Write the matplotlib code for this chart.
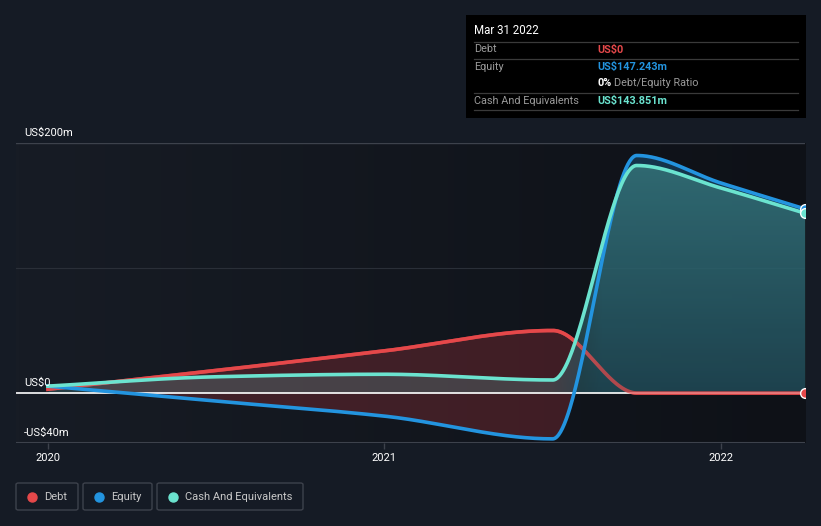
import numpy as np
import matplotlib.pyplot as plt
from matplotlib.patches import Rectangle, FancyBboxPatch
from matplotlib.colors import LinearSegmentedColormap, to_rgb

plt.rcParams['font.family'] = ['Roboto', 'DejaVu Sans']

# period ends as decimal years (Dec 2019 ... Mar 2022)
dates = [2020.0, 2020.5, 2021.0, 2021.5, 2021.75, 2022.0, 2022.25]
debt = [3.0, 18.0, 33.7, 50.0, 0.0, 0.0, 0.0]
equity = [5.5, -6.5, -18.5, -36.7, 190.0, 168.0, 147.243]
cash = [5.5, 13.0, 15.0, 10.4, 182.0, 164.0, 143.851]

legend_names = ['Debt', 'Equity', 'Cash And Equivalents']
c_debt, c_eq, c_cash = '#e5484a', '#2394df', '#6be3cf'
bg = '#151b25'


def pchip(x, y, xs):
    # monotone cubic (Fritsch-Carlson) so the curves look like the source chart
    x = np.asarray(x, float); y = np.asarray(y, float)
    h = np.diff(x); d = np.diff(y) / h
    m = np.zeros_like(y)
    m[0], m[-1] = d[0], d[-1]
    for k in range(1, len(y) - 1):
        if d[k-1] * d[k] <= 0:
            m[k] = 0
        else:
            w1 = 2*h[k] + h[k-1]; w2 = h[k] + 2*h[k-1]
            m[k] = (w1 + w2) / (w1/d[k-1] + w2/d[k])
    i = np.clip(np.searchsorted(x, xs) - 1, 0, len(h) - 1)
    t = (xs - x[i]) / h[i]
    h00 = 2*t**3 - 3*t**2 + 1; h10 = t**3 - 2*t**2 + t
    h01 = -2*t**3 + 3*t**2; h11 = t**3 - t**2
    return h00*y[i] + h10*h[i]*m[i] + h01*y[i+1] + h11*h[i]*m[i+1]


xs = np.linspace(dates[0], dates[-1], 800)
yd = pchip(dates, debt, xs)
ye = pchip(dates, equity, xs)
yc = pchip(dates, cash, xs)

fig = plt.figure(figsize=(8.21, 5.26), dpi=100, facecolor=bg)
ax = fig.add_axes([16/821, 1-443/526, 789/821, 300/526])
x0, x1, y0, y1 = 2019.905, 2022.25, -40, 200
ax.set_xlim(x0, x1)
ax.set_ylim(y0, y1)

# darker plot area, fading to the right
grad = LinearSegmentedColormap.from_list('g', ['#171c25', '#0e1117'])
ax.imshow(np.linspace(0, 1, 256)[None, :], extent=[0, 1, 0, 1], transform=ax.transAxes,
          cmap=grad, aspect='auto', zorder=0)

for s in ax.spines.values():
    s.set_visible(False)
ax.axhline(200, color='#3d424c', lw=1, zorder=1)
ax.axhline(100, color='#2a2f38', lw=0.8, zorder=1)
ax.axhline(-40, color='#3d424c', lw=1.5, zorder=1)

# fills
ax.fill_between(xs, yd, ye, where=yd > ye, color='#7a2a32', alpha=0.45, lw=0, zorder=2)
ax.plot(xs, yd, color=c_debt, lw=2.6, zorder=2.5)
ax.fill_between(xs, yc, 0, where=yc > 0, color='#5aa8a8', alpha=0.25, lw=0, zorder=3)
ax.fill_between(xs, ye, np.maximum(yc, 0), where=ye > yc, color='#17405e', alpha=0.75, lw=0, zorder=3)

# vertical teal gradient under the cash line, faded in after mid 2021
poly = ax.fill_between(xs, yc, 0, where=yc > 0, facecolor='none', lw=0, zorder=3.2)
ny, nx = 200, 400
gy = np.linspace(0, 1, ny)[:, None]
gx = np.linspace(x0, x1, nx)[None, :]
top, bot = np.array(to_rgb('#33737c')), np.array(to_rgb('#1d4451'))
img = np.zeros((ny, nx, 4))
img[..., :3] = (bot + (top - bot) * gy[..., None]) * np.ones((ny, nx, 1))
img[..., 3] = np.clip((gx - 2021.5) / 0.15, 0, 1) * 0.85 * np.ones((ny, nx))
im = ax.imshow(img, extent=[x0, x1, 0, 185], origin='lower', aspect='auto', zorder=3.2)
im.set_clip_path(poly.get_paths()[0], transform=ax.transData)
ax.set_xlim(x0, x1)
ax.set_ylim(y0, y1)

ax.axhline(0, color='white', lw=1.2, zorder=4)
# debt line seen through the fill, muted
ax.plot(xs, yd, color=c_debt, lw=2.6, alpha=0.7, zorder=4.5)
ax.plot(xs, ye, color=c_eq, lw=2.6, zorder=5)
ax.plot(xs, yc, color=c_cash, lw=2.6, zorder=6)
for vals, col in [(debt, c_debt), (equity, c_eq), (cash, c_cash)]:
    ax.plot(dates[-1], vals[-1], 'o', ms=7, mfc=col, mec='white', mew=1, zorder=7)

ax.set_yticks([])
ax.set_xticks([2020, 2021, 2022])
ax.set_xticklabels(['2020', '2021', '2022'])
ax.tick_params(axis='x', colors='#3d424c', length=4, width=1, labelcolor='white', labelsize=8, pad=3)

for val, lab in [(200, 'US$200m'), (0, 'US$0'), (-40, '-US$40m')]:
    ax.annotate(lab, (8/789, val), xycoords=ax.get_yaxis_transform(), xytext=(0, 5),
                textcoords='offset points', color='white', fontsize=8, va='baseline',
                ha='left', zorder=8)

# tooltip box
W, H = 821, 526
fig.patches.append(Rectangle((466/W, 1-118/H), 340/W, 103/H, transform=fig.transFigure,
                             facecolor='black', edgecolor='none', zorder=10))
fig.text(474/W, 1-31/H, 'Mar 31 2022', color='white', fontsize=8.3, va='center', zorder=11)
for yy in [41.5, 58.5, 92.5, 109.5]:
    fig.add_artist(plt.Line2D([474/W, 798/W], [1-yy/H]*2, color='#3a3a3a', lw=0.9, zorder=11))
rows = [(49.5, 'Debt', 'US$0', c_debt), (66.5, 'Equity', 'US$147.243m', c_eq),
        (100.5, 'Cash And Equivalents', 'US$143.851m', c_cash)]
for yy, lab, v, col in rows:
    fig.text(474/W, 1-yy/H, lab, color='#9a9a9a', fontsize=7.8, va='center', zorder=11)
    fig.text(597/W, 1-yy/H, v, color=col, fontsize=7.8, va='center', weight='bold', zorder=11)
fig.text(597/W, 1-83.5/H, '0%', color='white', fontsize=7.8, va='center', weight='bold', zorder=11)
fig.text(614/W, 1-83.5/H, 'Debt/Equity Ratio', color='#9a9a9a', fontsize=7.8, va='center', zorder=11)

# legend buttons
boxes = [(16, 78), (83, 152), (157, 303)]
for (bx0, bx1), name, col in zip(boxes, legend_names, [c_debt, c_eq, c_cash]):
    fig.patches.append(FancyBboxPatch((bx0/W, 1-510/H), (bx1-bx0)/W, 27/H, transform=fig.transFigure,
                                      boxstyle='round,pad=0,rounding_size=0.003',
                                      facecolor='none', edgecolor='#3d424c', lw=1))
    fig.add_artist(plt.Line2D([(bx0+16)/W], [1-496.5/H], marker='o', ms=6.5, color=col, lw=0))
    fig.text((bx0+28)/W, 1-496.5/H, name, color='#c8c8c8', fontsize=8, va='center')

fig.savefig('out.png', dpi=100, facecolor=bg)
